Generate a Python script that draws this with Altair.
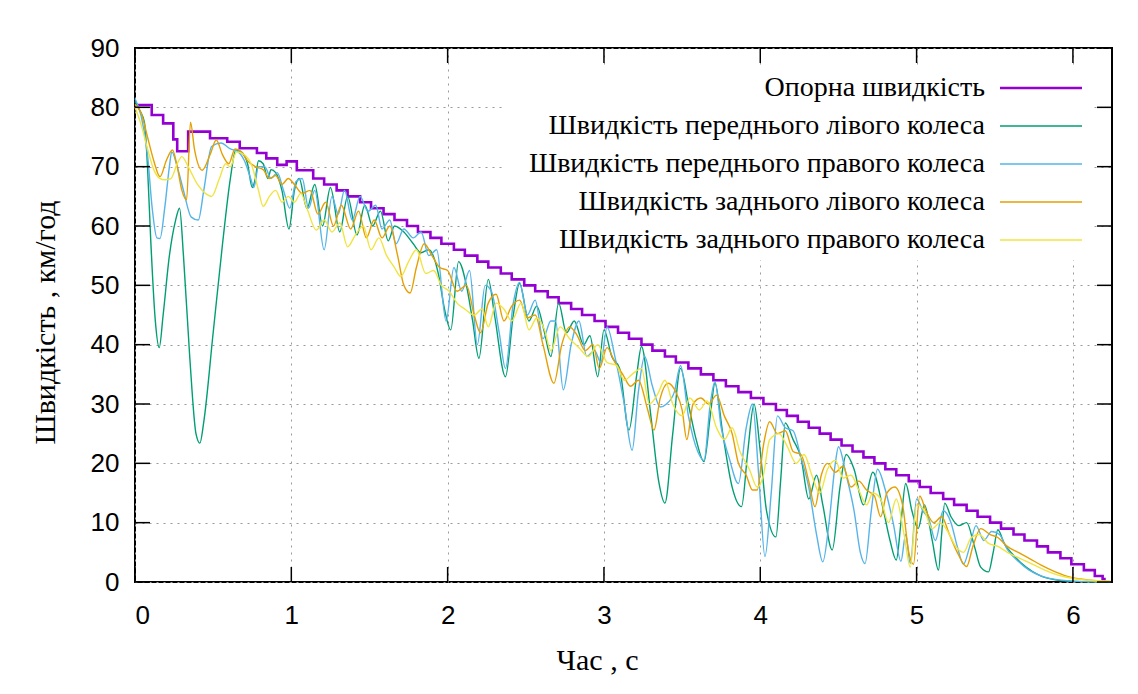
import altair as alt
import pandas as pd

# ---------------- data ----------------
series_names = [
    "Опорна швидкість",
    "Швидкість переднього лівого колеса",
    "Швидкість переднього правого колеса",
    "Швидкість заднього лівого колеса",
    "Швидкість заднього правого колеса",
]
series_colors = ["#9400d3", "#009e73", "#56b4e9", "#e69f00", "#f0e442"]

x_ticks = [0, 1, 2, 3, 4, 5, 6]
y_ticks = [0, 10, 20, 30, 40, 50, 60, 70, 80, 90]

ref_t = [0.00, 0.107, 0.18, 0.245, 0.27, 0.34, 0.48, 0.59, 0.67, 0.78, 0.84, 0.91, 0.97, 1.035, 1.14,
         1.21, 1.29, 1.36, 1.44, 1.51, 1.59, 1.66, 1.74, 1.81, 1.89,
         1.96, 2.04, 2.11, 2.19, 2.26, 2.34, 2.41, 2.49, 2.56, 2.64,
         2.71, 2.79, 2.86, 2.94, 3.01, 3.09, 3.16, 3.24, 3.31, 3.39,
         3.46, 3.54, 3.62, 3.70, 3.78, 3.86, 3.94, 4.02, 4.10, 4.17,
         4.24, 4.31, 4.38, 4.45, 4.52, 4.59, 4.66, 4.73, 4.80, 4.87,
         4.95, 5.02, 5.09, 5.17, 5.24, 5.32, 5.39, 5.47, 5.54, 5.62,
         5.69, 5.77, 5.84, 5.92, 5.99, 6.07, 6.14, 6.19, 6.21]
ref_v = [80.4, 78.7, 77.3, 74.6, 72.6, 75.9, 74.8, 74.2, 73.1, 72.3, 71.4, 70.3, 70.9, 69.4, 68,
         67, 66, 65, 64, 63, 62, 61, 60, 59, 58,
         57, 56, 55, 54, 53, 52, 51, 50, 49, 48,
         47, 46, 45, 44, 43, 42, 41, 40, 39, 38,
         37, 36, 35, 34, 33, 32, 31, 30, 29, 28,
         27, 26, 25, 24, 23, 22, 21, 20, 19, 18,
         17, 16, 15, 14, 13, 12, 11, 10, 9, 8,
         7, 6, 5, 4, 3, 2, 1, 0.5, 0.5]

fl_t = [0.00, 0.03, 0.06, 0.08, 0.10, 0.13, 0.155, 0.18, 0.22, 0.26, 0.285, 0.31, 0.35, 0.39, 0.415,
        0.44, 0.50, 0.56, 0.61, 0.645, 0.68, 0.72, 0.75, 0.77, 0.79, 0.82, 0.85, 0.87, 0.90, 0.94,
        0.985, 1.02, 1.05, 1.10, 1.15, 1.20, 1.25, 1.31, 1.36, 1.42, 1.47, 1.52, 1.57, 1.62, 1.66,
        1.72, 1.78, 1.83, 1.88, 1.94, 1.98, 2.02, 2.07, 2.12, 2.16, 2.20, 2.26, 2.30, 2.37, 2.42,
        2.46, 2.52, 2.57, 2.62, 2.66, 2.71, 2.76, 2.81, 2.87, 2.91, 2.96, 3.00, 3.05, 3.10, 3.16,
        3.21, 3.24, 3.30, 3.35, 3.39, 3.44, 3.49, 3.54, 3.59, 3.64, 3.68, 3.71, 3.76, 3.82, 3.88,
        3.92, 3.96, 4.00, 4.04, 4.10, 4.13, 4.16, 4.21, 4.26, 4.31, 4.36, 4.40, 4.46, 4.51, 4.55,
        4.60, 4.66, 4.72, 4.78, 4.83, 4.87, 4.90, 4.93, 4.97, 5.01, 5.05, 5.10, 5.14, 5.16, 5.18,
        5.22, 5.27, 5.32, 5.37, 5.41, 5.46, 5.49, 5.52, 5.56, 5.62, 5.70, 5.78, 5.88, 6.00, 6.24]
fl_v = [81.0, 79.5, 77.5, 70, 58, 44, 39.5, 45, 55, 61, 63, 55, 38, 25, 23.4,
        27, 42, 57, 68, 72.8, 72.5, 70.5, 66.5, 68, 71, 70.5, 68, 69.5, 69, 66,
        59.5, 66, 68, 63, 67, 60, 66.5, 59, 65, 58.5, 63.5, 60, 62.5, 57.5, 60,
        59, 57, 55.5, 56, 52, 46, 42.5, 54, 50, 44, 37.7, 51, 45, 34.6, 45,
        50.3, 44, 46.5, 42, 38, 47, 42, 44, 40, 41.5, 34.6, 42.5, 38, 36, 25.6,
        35, 39.7, 28, 17, 13.3, 25, 36, 30, 24, 20.3, 28, 33.5, 25, 16, 12.7,
        22, 30, 22, 12, 7.6, 17, 26.8, 24, 21, 14, 18, 13, 5.4, 16, 21.5,
        19, 13, 18.5, 13, 7, 3.7, 10, 16.6, 12, 9, 13, 7, 2, 8, 13.3,
        11, 9.5, 10, 6, 2.5, 1.7, 5, 8.8, 6.5, 4.5, 2.5, 1.2, 0.4, 0.1, 0]

fr_t = [0.00, 0.04, 0.08, 0.11, 0.14, 0.16, 0.19, 0.22, 0.235, 0.27, 0.31, 0.36, 0.405, 0.44, 0.49,
        0.55, 0.61, 0.66, 0.70, 0.74, 0.76, 0.79, 0.83, 0.87, 0.91, 0.95, 0.99, 1.03, 1.07, 1.11,
        1.15, 1.21, 1.26, 1.30, 1.34, 1.39, 1.44, 1.49, 1.54, 1.58, 1.63, 1.67, 1.72, 1.78, 1.83,
        1.88, 1.93, 1.99, 2.04, 2.09, 2.14, 2.19, 2.24, 2.28, 2.33, 2.37, 2.42, 2.46, 2.51, 2.56,
        2.61, 2.66, 2.69, 2.74, 2.79, 2.84, 2.89, 2.94, 2.98, 3.02, 3.07, 3.13, 3.18, 3.22, 3.26,
        3.31, 3.36, 3.40, 3.45, 3.49, 3.54, 3.60, 3.64, 3.68, 3.71, 3.75, 3.80, 3.86, 3.91, 3.95,
        3.99, 4.03, 4.07, 4.11, 4.16, 4.21, 4.26, 4.31, 4.36, 4.40, 4.44, 4.48, 4.50, 4.55, 4.60,
        4.64, 4.67, 4.71, 4.75, 4.80, 4.85, 4.90, 4.93, 4.96, 5.00, 5.04, 5.08, 5.12, 5.17, 5.22,
        5.26, 5.30, 5.34, 5.38, 5.43, 5.48, 5.53, 5.58, 5.65, 5.72, 5.80, 5.90, 6.05, 6.24]
fr_v = [81.5, 78.5, 72, 63, 58, 57.9, 63, 70, 72.5, 70, 66, 61.5, 61, 66, 73.4,
        74, 73, 72.5, 71, 68, 66.5, 70, 70, 68, 69, 66, 63, 67.5, 68, 63,
        66, 56, 65, 62, 66, 61, 65, 62.5, 63.5, 59.5, 61, 57, 59.5, 58, 59,
        55, 56, 44, 53, 49, 52.5, 40, 50, 49, 42, 36, 47, 50.5, 45, 47.5,
        41, 44, 44, 32.4, 40, 44, 38, 39, 37, 43, 38, 30, 22.2, 32, 38,
        33, 29.5, 30, 32, 36.5, 28, 22, 20.5, 30, 33.8, 26, 21, 16.6, 26, 30,
        18, 4.3, 15, 28, 26, 25.5, 21, 16, 8, 3.4, 10, 20, 22.8, 18, 12,
        5, 3.1, 12, 19, 15.5, 10, 3.5, 8, 3.1, 14, 12, 10.5, 7, 12, 10,
        6, 3, 6, 9.5, 7, 8.5, 8, 5.5, 3.5, 2, 1, 0.4, 0.1, 0]

rl_t = [0.00, 0.04, 0.08, 0.12, 0.16, 0.20, 0.24, 0.27, 0.30, 0.33, 0.355, 0.38, 0.43, 0.48, 0.52,
        0.56, 0.60, 0.64, 0.68, 0.72, 0.77, 0.82, 0.86, 0.90, 0.94, 0.98, 1.02, 1.07, 1.12, 1.17,
        1.22, 1.27, 1.32, 1.38, 1.43, 1.48, 1.53, 1.58, 1.63, 1.68, 1.72, 1.76, 1.80, 1.85, 1.90,
        1.95, 2.00, 2.06, 2.12, 2.17, 2.21, 2.26, 2.31, 2.36, 2.41, 2.46, 2.51, 2.56, 2.61, 2.68,
        2.73, 2.78, 2.83, 2.88, 2.93, 2.97, 3.02, 3.07, 3.12, 3.17, 3.22, 3.28, 3.32, 3.36, 3.41,
        3.46, 3.50, 3.53, 3.57, 3.62, 3.67, 3.72, 3.77, 3.82, 3.86, 3.91, 3.95, 3.98, 4.02, 4.06,
        4.11, 4.16, 4.21, 4.26, 4.31, 4.35, 4.39, 4.43, 4.48, 4.53, 4.58, 4.63, 4.68, 4.73, 4.77,
        4.81, 4.86, 4.91, 4.95, 4.98, 5.02, 5.06, 5.11, 5.16, 5.21, 5.26, 5.32, 5.36, 5.41, 5.47,
        5.52, 5.58, 5.65, 5.72, 5.80, 5.88, 5.96, 6.05, 6.15, 6.24]
rl_v = [80.5, 79, 75, 71, 68.3, 71, 72.8, 70, 66, 64.4, 77.5, 73, 69.4, 72, 74.5,
        72, 70.5, 73, 72.5, 71, 70, 69.5, 68, 68.5, 67, 68, 67, 65.5, 66, 62,
        64, 60, 63.5, 59.5, 62.5, 58, 61, 58, 60, 55, 50, 48.7, 53, 57, 55,
        53, 52.5, 49, 50, 45, 42, 47, 48.5, 44, 46.5, 47.5, 44.5, 45, 40, 33.5,
        40, 43, 41.5, 39, 40, 36, 39.5, 37, 35, 33, 34, 29, 25.6, 31, 33.5,
        32, 29, 24, 30, 31, 30, 31.5, 28, 25, 20, 18, 15.5, 15.5, 23, 27,
        25, 25.5, 22, 21.5, 17, 12.7, 18, 20, 18.5, 19.5, 16, 17, 15.5, 14.5, 11,
        15, 16, 13, 5, 3, 14.5, 12, 10, 11, 8, 5, 2.6, 6, 9, 8,
        7.5, 6, 5, 4, 2.8, 1.8, 1, 0.5, 0.2, 0.1]

rr_t = [0.00, 0.04, 0.08, 0.12, 0.16, 0.19, 0.23, 0.27, 0.30, 0.34, 0.40, 0.45, 0.49, 0.54, 0.58,
        0.61, 0.65, 0.70, 0.75, 0.79, 0.82, 0.86, 0.90, 0.94, 0.98, 1.02, 1.06, 1.10, 1.16, 1.21,
        1.26, 1.31, 1.36, 1.41, 1.46, 1.51, 1.56, 1.61, 1.66, 1.70, 1.75, 1.80, 1.86, 1.91, 1.96,
        2.01, 2.06, 2.11, 2.17, 2.22, 2.26, 2.31, 2.36, 2.41, 2.47, 2.52, 2.57, 2.62, 2.66, 2.72,
        2.78, 2.84, 2.90, 2.96, 3.02, 3.08, 3.13, 3.18, 3.24, 3.29, 3.34, 3.39, 3.44, 3.50, 3.55,
        3.61, 3.66, 3.72, 3.77, 3.82, 3.87, 3.93, 3.98, 4.02, 4.06, 4.12, 4.17, 4.23, 4.28, 4.33,
        4.38, 4.43, 4.48, 4.53, 4.58, 4.63, 4.68, 4.72, 4.77, 4.82, 4.87, 4.92, 4.96, 5.00, 5.05,
        5.10, 5.15, 5.20, 5.25, 5.30, 5.35, 5.40, 5.46, 5.52, 5.58, 5.66, 5.74, 5.82, 5.90, 6.00,
        6.10, 6.24]
rr_v = [80, 77, 73, 69.5, 68, 67.8, 68, 70.5, 71.7, 70, 67, 65.5, 65, 68, 70.5,
        70, 72.5, 72, 70, 66, 63.3, 65, 66, 64, 65, 64, 65.5, 63, 59.3, 61,
        59, 60.5, 56.5, 58.5, 60, 56, 58, 55, 53, 51.5, 54, 56, 52, 52.5, 50,
        49, 47, 46, 45, 46, 43, 47, 46, 44, 47, 42.5, 44.5, 42.5, 39, 43,
        41, 39.5, 38, 40, 37, 36.5, 34, 35, 36, 30, 31.5, 34, 30, 28, 31,
        29, 30.5, 26, 24, 26, 22, 19, 16, 18, 24, 25, 23, 20, 21.5, 18,
        15, 19, 20.5, 17.5, 18, 15.5, 13, 15, 14, 10, 14, 8, 2.5, 13, 12,
        9, 10, 8.5, 6, 5, 7.5, 8, 6.5, 6, 5, 4, 3, 2, 1.2, 0.6,
        0.3, 0.1]

# ---------------- layout ----------------
W, H = 977, 534
TICK = 15
SERIF = "Liberation Serif"

x_scale = alt.Scale(domain=[0, 6.25], nice=False, zero=False)
y_scale = alt.Scale(domain=[0, 90], nice=False, zero=False)


def series_df(ts, vs):
    return pd.DataFrame({"t": ts, "v": vs})


axes_layer = alt.Chart(pd.DataFrame({"t": [0, 6.25], "v": [0, 90]})).mark_point(opacity=0).encode(
    x=alt.X("t:Q", scale=x_scale,
            axis=alt.Axis(values=x_ticks, format="d", title="Час , с",
                          titleX=462, titleY=78, titleAlign="center", titleBaseline="middle",
                          labelPadding=20, ticks=False, domain=False, grid=True)),
    y=alt.Y("v:Q", scale=y_scale,
            axis=alt.Axis(values=y_ticks, format="d", title="Швидкість , км/год",
                          titleX=-90, titleY=274, titleAlign="center", titleBaseline="middle",
                          labelPadding=16, ticks=False, domain=False, grid=True)),
)

xt = pd.DataFrame({"t": x_ticks})
yt = pd.DataFrame({"v": y_ticks})
tick_bottom = alt.Chart(xt).mark_rule(color="black", strokeWidth=1.5).encode(
    x=alt.X("t:Q", scale=x_scale), y=alt.value(H), y2=alt.value(H - TICK))
tick_top = alt.Chart(xt).mark_rule(color="black", strokeWidth=1.5).encode(
    x=alt.X("t:Q", scale=x_scale), y=alt.value(0), y2=alt.value(TICK))
tick_left = alt.Chart(yt).mark_rule(color="black", strokeWidth=1.5).encode(
    y=alt.Y("v:Q", scale=y_scale), x=alt.value(0), x2=alt.value(TICK))
tick_right = alt.Chart(yt).mark_rule(color="black", strokeWidth=1.5).encode(
    y=alt.Y("v:Q", scale=y_scale), x=alt.value(W), x2=alt.value(W - TICK))

key_box = alt.Chart(pd.DataFrame({"a": [0]})).mark_rect(fill="white").encode(
    x=alt.value(368), x2=alt.value(958), y=alt.value(20), y2=alt.value(212))

line_layers = []
datasets = [(ref_t, ref_v), (fl_t, fl_v), (fr_t, fr_v), (rl_t, rl_v), (rr_t, rr_v)]
for i, (ts, vs) in enumerate(datasets):
    if i == 0:
        mk = alt.Chart(series_df(ts, vs)).mark_line(color=series_colors[i], strokeWidth=2.6,
                                                    interpolate="step-after")
    else:
        mk = alt.Chart(series_df(ts, vs)).mark_line(color=series_colors[i], strokeWidth=1.4,
                                                    interpolate="monotone")
    line_layers.append(mk.encode(x=alt.X("t:Q", scale=x_scale), y=alt.Y("v:Q", scale=y_scale)))

legend_layers = []
for i, (name, col) in enumerate(zip(series_names, series_colors)):
    ypos = 40 + 38 * i
    legend_layers.append(
        alt.Chart(pd.DataFrame({"label": [name]})).mark_text(
            align="right", baseline="middle", font=SERIF, fontSize=28, color="black"
        ).encode(text="label:N", x=alt.value(850), y=alt.value(ypos))
    )
    legend_layers.append(
        alt.Chart(pd.DataFrame({"label": [name]})).mark_rule(
            color=col, strokeWidth=2.6 if i == 0 else 1.3
        ).encode(x=alt.value(865), x2=alt.value(947), y=alt.value(ypos))
    )

chart = alt.layer(
    axes_layer, key_box, *line_layers, tick_bottom, tick_top, tick_left, tick_right, *legend_layers
).properties(
    width=W, height=H,
    autosize=alt.AutoSizeParams(type="none"),
    padding={"left": 127, "top": 40, "right": 18, "bottom": 100},
    background="white",
).configure_view(
    stroke="black", strokeWidth=2
).configure_axis(
    labelFont="Liberation Sans", labelFontSize=26, labelColor="black",
    titleFont=SERIF, titleFontSize=30, titleFontWeight="normal", titleColor="black",
    gridColor="#9a9a9a", gridDash=[2, 5], gridWidth=1,
)

chart.save("out.html", embed_options={"renderer": "svg", "actions": False})
